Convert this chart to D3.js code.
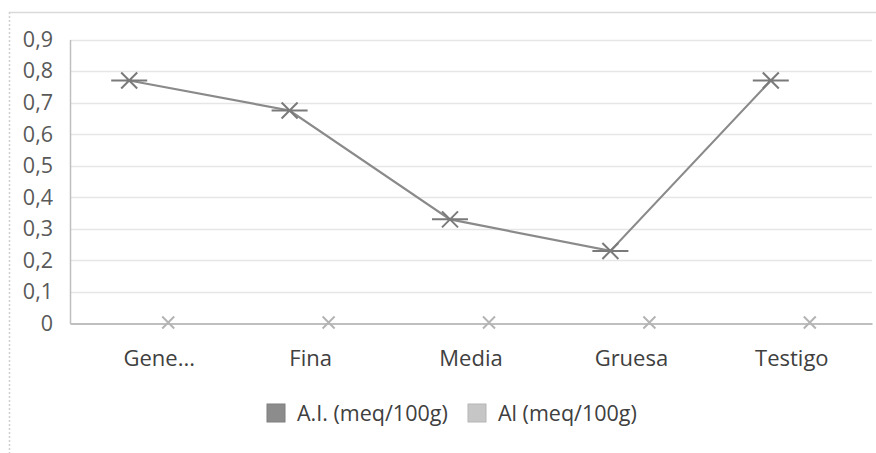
<!DOCTYPE html>
<html><head><meta charset="utf-8">
<script src="https://cdn.jsdelivr.net/npm/d3@7"></script>
<style>
html,body{margin:0;padding:0;background:#fff;}
svg{display:block;font-family:"Open Sans","Noto Sans",sans-serif;}
</style></head>
<body><svg id="c" width="876" height="453"></svg>
<script>
const categories = ["Gene...", "Fina", "Media", "Gruesa", "Testigo"];
const seriesNames = ["A.I. (meq/100g)", "Al (meq/100g)"];
const seriesAI = [0.77, 0.675, 0.33, 0.23, 0.77];
const seriesAl = [0, 0, 0, 0, 0];
const yTicks = [0, 0.1, 0.2, 0.3, 0.4, 0.5, 0.6, 0.7, 0.8, 0.9];

const svg = d3.select("#c");
const W = 876, H = 453;
const plot = {left: 70, right: 872, top: 39.5, bottom: 323.5};

// chart border
svg.append("line").attr("x1", 9).attr("x2", W).attr("y1", 12.5).attr("y2", 12.5)
  .attr("stroke", "#d9d9d9").attr("stroke-width", 1.5);
svg.append("line").attr("x1", 9.5).attr("x2", 9.5).attr("y1", 12).attr("y2", H)
  .attr("stroke", "#cfcfcf").attr("stroke-width", 1.5).attr("stroke-dasharray", "2,2");

const x = d3.scaleBand().domain(categories).range([plot.left, plot.right]);
const xs = d3.scalePoint().domain(seriesNames).range([-21, 18]);
const y = d3.scaleLinear().domain([0, 0.9]).range([plot.bottom, plot.top]);

// gridlines
svg.append("g").selectAll("line").data(yTicks.filter(d => d > 0)).join("line")
  .attr("x1", plot.left).attr("x2", plot.right)
  .attr("y1", d => Math.round(y(d)) + 0.5).attr("y2", d => Math.round(y(d)) + 0.5)
  .attr("stroke", "#e6e6e6").attr("stroke-width", 1.5);

// y axis
const yAxis = d3.axisLeft(y).tickValues(yTicks).tickSize(0).tickPadding(0)
  .tickFormat(d => d3.format(".1f")(d).replace(".", ",").replace(/^0,0$/, "0"));
const ya = svg.append("g").attr("transform", `translate(${plot.left},0)`).call(yAxis);
ya.select(".domain").attr("stroke", "#bfbfbf").attr("stroke-width", 1.5);
ya.selectAll("text").attr("x", -17).attr("font-size", 21.5).attr("fill", "#595959")
  .attr("font-family", "'Open Sans',sans-serif");

// x axis
const xAxis = d3.axisBottom(x).tickSize(0).tickPadding(0);
const xa = svg.append("g").attr("transform", `translate(0,${plot.bottom})`).call(xAxis);
xa.select(".domain").attr("stroke", "#bfbfbf").attr("stroke-width", 2);
xa.selectAll("text").attr("y", 0).attr("dy", 0)
  .attr("transform", (d, i) => `translate(${i === 0 ? 9 : 0},42)`)
  .attr("font-size", 22).attr("fill", "#404040").attr("font-family", "'Open Sans',sans-serif");

// series AI line
const px = (c, s) => x(c) + x.bandwidth() / 2 + xs(s);
const lineAI = d3.line().x((d, i) => px(categories[i], seriesNames[0])).y(d => y(d));
svg.append("path").datum(seriesAI).attr("d", lineAI).attr("fill", "none")
  .attr("stroke", "#8a8a8a").attr("stroke-width", 2.2);

// markers AI: star (X + horizontal bar)
const mAI = svg.append("g").selectAll("g").data(seriesAI).join("g")
  .attr("transform", (d, i) => `translate(${px(categories[i], seriesNames[0])},${y(d)})`);
mAI.append("path").attr("d", "M-8,-8L8,8M-8,8L8,-8M-18,0L18,0")
  .attr("stroke", "#7a7a7a").attr("stroke-width", 2).attr("fill", "none");

// series Al markers
const mAl = svg.append("g").selectAll("g").data(seriesAl).join("g")
  .attr("transform", (d, i) => `translate(${px(categories[i], seriesNames[1])},${y(d) - 1})`);
mAl.append("path").attr("d", "M-6,-6L6,6M-6,6L6,-6")
  .attr("stroke", "#b4b4b4").attr("stroke-width", 2).attr("fill", "none");

// legend
const legendColors = ["#8c8c8c", "#c6c6c6"];
const legendStroke = ["#7f7f7f", "#b5b5b5"];
const legendX = [267, 468];
const lg = svg.append("g").selectAll("g").data(seriesNames).join("g")
  .attr("transform", (d, i) => `translate(${legendX[i]},404)`);
lg.append("rect").attr("width", 18).attr("height", 18)
  .attr("fill", (d, i) => legendColors[i]).attr("stroke", (d, i) => legendStroke[i]).attr("stroke-width", 1);
lg.append("text").attr("x", 30).attr("y", 17).text(d => d)
  .attr("font-size", 21.5).attr("fill", "#404040");
</script></body></html>
